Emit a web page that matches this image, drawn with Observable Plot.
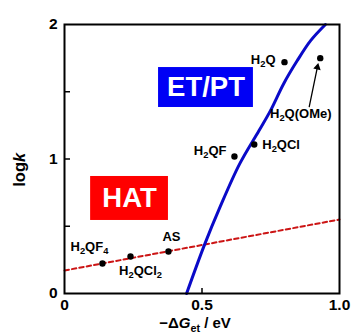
<!DOCTYPE html>
<html>
<head>
<meta charset="utf-8">
<script src="https://cdn.jsdelivr.net/npm/d3@7"></script>
<script src="https://cdn.jsdelivr.net/npm/@observablehq/plot@0.6"></script>
<style>
  html, body { margin: 0; padding: 0; background: #fff; }
  #chart { width: 352px; height: 334px; }
</style>
</head>
<body>
<div id="chart"></div>
<script>
// ---- data ----
const compounds = ["H_2QF_4", "H_2QCl_2", "AS", "H_2QF", "H_2QCl", "H_2Q", "H_2Q(OMe)"];
const dGet = [0.138, 0.240, 0.378, 0.618, 0.690, 0.800, 0.930];
const logk = [0.223, 0.275, 0.312, 1.019, 1.108, 1.720, 1.750];

// HAT correlation (red dashed line)
const hatLineX = [0, 1.0];
const hatLineY = [0.171, 0.55];

// ET/PT curve (blue)
const etptCurveX = [0.444, 0.510, 0.565, 0.636, 0.707, 0.749, 0.797, 0.846, 0.895, 0.949];
const etptCurveY = [0.000, 0.367, 0.640, 0.960, 1.210, 1.360, 1.560, 1.730, 1.880, 2.000];

// tick labels
const xTicks = [0, 0.5, 1.0];
const xTickLabels = ["0", "0.5", "1.0"];
const yTicks = [0, 1, 2];
const yTickLabels = ["0", "1", "2"];
const yMinorTicks = [0.5, 1, 1.5];
const xMinorTicks = [0.5];

// ---- layout (annotation placement) ----
const labelPlace = [
  {dx: -13, dy: -17, anchor: "middle"},
  {dx: 10, dy: 14, anchor: "middle"},
  {dx: 3, dy: -14.5, anchor: "middle"},
  {dx: -8, dy: -6, anchor: "end"},
  {dx: 8, dy: 0, anchor: "start"},
  {dx: -9, dy: -2.5, anchor: "end"},
  {dx: -19.5, dy: 56, anchor: "middle"}
];
const boxes = [
  {x1: 0.342, x2: 0.687, y1: 1.383, y2: 1.680, label: "ET/PT", fill: "#0000f5"},
  {x1: 0.095, x2: 0.378, y1: 0.543, y2: 0.870, label: "HAT", fill: "#ff0000"}
];
const arrowAnn = [{x1: 0.890, y1: 1.390, x2: 0.9226, y2: 1.712}];
const yTitlePos = [{y: 0.92, text: "log*k*"}];

const pts = compounds.map((c, i) => ({name: c, x: dGet[i], y: logk[i]}));
const hat = hatLineX.map((x, i) => ({x, y: hatLineY[i]}));
const etpt = etptCurveX.map((x, i) => ({x, y: etptCurveY[i]}));

const FONT = "'Liberation Sans', Arial, Helvetica, sans-serif";

const plot = Plot.plot({
  width: 352,
  height: 334,
  marginLeft: 64,
  marginRight: 13,
  marginTop: 24,
  marginBottom: 41,
  style: {fontFamily: FONT, fontWeight: "bold", background: "#fff", color: "#000", overflow: "visible"},
  x: {domain: [0, 1.0], label: null},
  y: {domain: [0, 2], label: null},
  marks: [
    Plot.line(hat, {x: "x", y: "y", stroke: "#cc1515", strokeWidth: 2, strokeDasharray: "4.5,3"}),
    Plot.line(etpt, {x: "x", y: "y", stroke: "#0a0ac8", strokeWidth: 3, curve: "catmull-rom"}),
    Plot.rect(boxes, {x1: "x1", x2: "x2", y1: "y1", y2: "y2", fill: "fill"}),
    Plot.text(boxes, {x: d => (d.x1 + d.x2) / 2, y: d => (d.y1 + d.y2) / 2, text: "label", fill: "white", fontSize: 27.5, fontWeight: "bold"}),
    Plot.dot(pts, {x: "x", y: "y", r: 3.2, fill: "black"}),
    ...pts.map((p, i) => Plot.text([p], {
      x: "x", y: "y", text: "name",
      dx: labelPlace[i].dx, dy: labelPlace[i].dy, textAnchor: labelPlace[i].anchor,
      fontSize: 13, fontWeight: "bold", fill: "black"
    })),
    Plot.arrow(arrowAnn, {x1: "x1", y1: "y1", x2: "x2", y2: "y2", stroke: "black", strokeWidth: 1.3, headLength: 0, insetEnd: 3}),
    Plot.dot(arrowAnn, {x: "x2", y: "y2", symbol: "triangle2", r: 3.6, rotate: 11.7, fill: "black", dx: -0.8, dy: 4}),
    // axes
    Plot.axisX({ticks: xTicks, tickSize: 0, tickPadding: 5, tickFormat: d => xTickLabels[xTicks.indexOf(d)], fontSize: 15.5, label: null}),
    Plot.axisX({ticks: xMinorTicks, tickSize: -5, tickFormat: () => "", label: null, strokeWidth: 1.5}),
    Plot.axisY({ticks: yTicks, tickSize: 0, tickPadding: 7, tickFormat: d => yTickLabels[yTicks.indexOf(d)], fontSize: 15.5, label: null}),
    Plot.axisY({ticks: yMinorTicks, tickSize: -6, tickFormat: () => "", label: null, strokeWidth: 1.5}),
    Plot.text(["−Δ*G*_{et} / eV"], {frameAnchor: "bottom", text: d => d, textAnchor: "middle", lineAnchor: "middle", dy: 30, dx: -7, fontSize: 15, fontWeight: "bold"}),
    Plot.text(yTitlePos, {frameAnchor: "left", y: "y", text: "text", rotate: -90, textAnchor: "middle", lineAnchor: "middle", dx: -45, fontSize: 16.5, fontWeight: "bold"}),
    Plot.frame({stroke: "black", strokeWidth: 2})
  ]
});

document.getElementById("chart").appendChild(plot);

// rich text: _x or _{xx} -> subscript, *x* -> italic
(function rich(svg) {
  const ns = "http://www.w3.org/2000/svg";
  svg.querySelectorAll("text").forEach(t => {
    const s = t.textContent;
    if (!/[_*]/.test(s)) return;
    const fs = parseFloat(getComputedStyle(t).fontSize) || 12;
    while (t.firstChild) t.removeChild(t.firstChild);
    const re = /_\{([^}]*)\}|_(.)|\*([^*]*)\*|([^_*]+)/g;
    let m, shifted = false;
    const sh = 0.24 * fs;
    while ((m = re.exec(s))) {
      const ts = document.createElementNS(ns, "tspan");
      if (m[1] !== undefined || m[2] !== undefined) {
        ts.textContent = m[1] !== undefined ? m[1] : m[2];
        ts.setAttribute("font-size", (0.72 * fs).toFixed(2));
        if (!shifted) { ts.setAttribute("dy", sh.toFixed(2)); shifted = true; }
      } else {
        ts.textContent = m[3] !== undefined ? m[3] : m[4];
        if (m[3] !== undefined) ts.setAttribute("font-style", "italic");
        if (shifted) { ts.setAttribute("dy", (-sh).toFixed(2)); shifted = false; }
      }
      t.appendChild(ts);
    }
  });
})(plot);
</script>
</body>
</html>
